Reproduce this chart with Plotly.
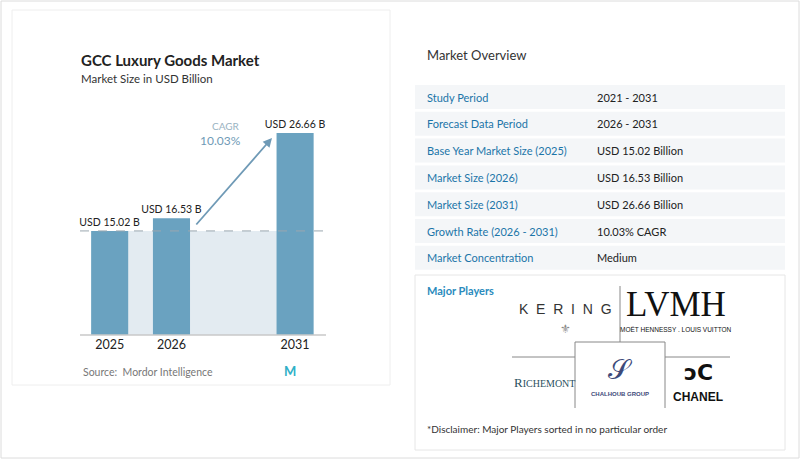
import plotly.graph_objects as go

years = ["2025", "2026", "2031"]
values = [15.02, 16.53, 26.66]
value_labels = ["USD 15.02 B", "USD 16.53 B", "USD 26.66 B"]
cagr = "10.03%"
row_labels = ["Study Period", "Forecast Data Period", "Base Year Market Size (2025)",
              "Market Size (2026)", "Market Size (2031)", "Growth Rate (2026 - 2031)",
              "Market Concentration"]
row_values = ["2021 - 2031", "2026 - 2031", "USD 15.02 Billion", "USD 16.53 Billion",
              "USD 26.66 Billion", "10.03% CAGR", "Medium"]

W, H = 800, 459
def px(x): return x / W
def py(y): return 1 - y / H

xpos = [int(y) - 2025 if int(y) < 2027 else 3 for y in years]
FONT = "Lato"

fig = go.Figure()
fig.add_trace(go.Bar(x=xpos, y=values, width=0.6, marker=dict(color="#6aa2c0", line_width=0),
                     text=value_labels, textposition="outside", constraintext="none",
                     textfont=dict(size=10.5, color="#222", family=FONT), cliponaxis=False,
                     hoverinfo="skip"))

shapes = []
shapes.append(dict(type="rect", xref="paper", yref="paper", x0=px(1), x1=px(799), y0=py(458), y1=py(1),
                   line=dict(color="#dcdcdc", width=1), fillcolor="white", layer="below"))
shapes.append(dict(type="rect", xref="paper", yref="paper", x0=px(12), x1=px(390), y0=py(385), y1=py(10),
                   line=dict(color="#eeeeee", width=1), fillcolor="white", layer="below"))
shapes.append(dict(type="rect", xref="x", yref="y", x0=xpos[0], x1=xpos[2], y0=2.66, y1=values[0],
                   fillcolor="#e3ebf1", line_width=0, layer="below"))
shapes.append(dict(type="line", xref="paper", yref="y", x0=px(80), x1=px(327), y0=values[0], y1=values[0],
                   line=dict(color="#9aa7b0", width=1, dash="dash"), layer="above"))
shapes.append(dict(type="line", xref="paper", yref="paper", x0=px(80), x1=px(326), y0=py(335), y1=py(335),
                   line=dict(color="#c9c9c9", width=1.5)))

ann = []
def A(**kw):
    kw.setdefault("xref", "paper"); kw.setdefault("yref", "paper"); kw.setdefault("showarrow", False)
    kw.setdefault("xanchor", "center"); kw.setdefault("yanchor", "middle")
    ann.append(kw)

A(x=px(79), y=py(60), text="<b>GCC Luxury Goods Market</b>", xanchor="left",
  font=dict(size=15, color="#222", family=FONT))
A(x=px(79), y=py(78), text="Market Size in USD Billion", xanchor="left",
  font=dict(size=11.5, color="#333", family=FONT))
A(x=px(242), y=py(126), text="CAGR", xanchor="right", font=dict(size=10, color="#9ab3c2", family=FONT))
A(x=px(243), y=py(140), text=cagr, xanchor="right", font=dict(size=12, color="#6f9ab6", family=FONT))
A(x=px(272), y=py(138), ax=-77, ay=88, text="", showarrow=True, arrowhead=2, arrowsize=1,
  arrowwidth=1.8, arrowcolor="#6f9ab6")
A(x=px(81), y=py(372), text="Source:  Mordor Intelligence", xanchor="left",
  font=dict(size=10.5, color="#777", family=FONT))
A(x=px(290), y=py(371), text="<b>M</b>", font=dict(size=13, color="#2fb0c7", family=FONT))

A(x=px(425), y=py(55), text="Market Overview", xanchor="left", font=dict(size=13, color="#333", family=FONT))
for i, (l, v) in enumerate(zip(row_labels, row_values)):
    yc = 97 + i * 26.8
    shapes.append(dict(type="rect", xref="paper", yref="paper", x0=px(415), x1=px(785),
                       y0=py(yc + 12), y1=py(yc - 12), fillcolor="#f4f6f8", line_width=0, layer="below"))
    A(x=px(425), y=py(yc), text=l, xanchor="left", font=dict(size=11, color="#1b75a8", family=FONT))
    A(x=px(595), y=py(yc), text=v, xanchor="left", font=dict(size=11, color="#222", family=FONT))
shapes.append(dict(type="rect", xref="paper", yref="paper", x0=px(415), x1=px(785), y0=py(450), y1=py(275),
                   fillcolor="white", line=dict(color="#e6e6e6", width=1), layer="below"))
A(x=px(425), y=py(290), text="<b>Major Players</b>", xanchor="left", font=dict(size=11, color="#2a8bbd", family=FONT))
A(x=px(425), y=py(429), text="*Disclaimer: Major Players sorted in no particular order",
  xanchor="left", font=dict(size=10, color="#333", family=FONT))
for x0, y0, x1, y1 in [(620, 286, 620, 342), (512, 357, 575, 357), (665, 357, 730, 357),
                       (575, 342, 665, 342), (575, 342, 575, 408), (665, 342, 665, 408)]:
    shapes.append(dict(type="line", xref="paper", yref="paper", x0=px(x0), x1=px(x1), y0=py(y0), y1=py(y1),
                       line=dict(color="#888", width=1)))
A(x=px(565), y=py(309), text="K  E  R  I  N  G", font=dict(size=14, color="#333", family="Liberation Sans"))
A(x=px(565), y=py(328), text="⚜", font=dict(size=12, color="#888"))
A(x=px(676), y=py(304), text="LVMH", font=dict(size=35, color="#111", family="Liberation Serif"))
A(x=px(676), y=py(329), text="MOËT HENNESSY . LOUIS VUITTON", font=dict(size=6.5, color="#111", family="Liberation Sans"))
A(x=px(544), y=py(382), text="R<span style='font-size:10px'>ICHEMONT</span>",
  font=dict(size=13, color="#2b5060", family="Liberation Serif"))
A(x=px(620), y=py(368), text="𝒮", font=dict(size=28, color="#3d4a7a"))
A(x=px(620), y=py(394), text="<b>CHALHOUB GROUP</b>", font=dict(size=6, color="#3d4a7a", family="Liberation Sans"))
A(x=px(698), y=py(372), text="<b>ↄC</b>", font=dict(size=22, color="#111", family="DejaVu Sans"))
A(x=px(698), y=py(397), text="<b>CHANEL</b>", font=dict(size=12, color="#111", family="Liberation Sans"))

fig.update_layout(width=W, height=H, margin=dict(l=0, r=0, t=0, b=0), paper_bgcolor="white",
                  plot_bgcolor="rgba(0,0,0,0)", showlegend=False, shapes=shapes, annotations=ann,
                  xaxis=dict(domain=[px(80), px(326)], range=[-0.48, 3.5], tickmode="array",
                             tickvals=xpos, ticktext=years, showgrid=False, zeroline=False,
                             tickfont=dict(size=12.5, color="#222", family=FONT), ticks=""),
                  yaxis=dict(domain=[py(335), py(100)], range=[2.66, 30.57], visible=False))
fig.write_html("out.html", config={"displayModeBar": False},
               post_script="document.body.style.margin='0';")
